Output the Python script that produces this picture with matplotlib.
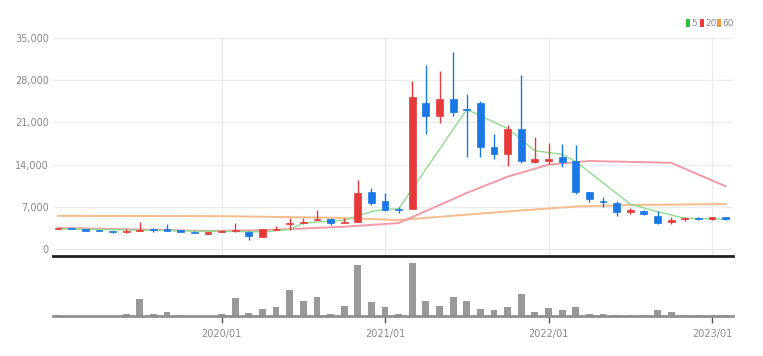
import matplotlib
matplotlib.use('Agg')
import matplotlib.pyplot as plt
from matplotlib.patches import Rectangle
import numpy as np
import pandas as pd

# monthly candles 2019/01 .. 2023/02
months = pd.date_range('2019-01-01', periods=50, freq='MS').strftime('%Y/%m').tolist()

opens = [3300, 3450, 3300, 3150, 2950, 2750, 3050, 3400, 3250, 3100, 2900, 2550,
         2900, 2950, 2900, 2050, 3200, 4200, 4250, 4800, 4950, 4300, 4500, 9500,
         8000, 6650, 6700, 24300, 22050, 24800, 23300, 24150, 16850, 15750, 19850, 14450,
         14650, 15250, 14650, 9400, 7900, 7700, 6150, 6250, 5450, 4550, 4950, 5200,
         4950, 5250]
highs = [3500, 3500, 3350, 3200, 3000, 3300, 4500, 3550, 4150, 3150, 2950, 2850,
         3100, 4350, 3000, 3350, 3800, 5100, 5100, 6450, 5200, 5100, 11450, 10050,
         9250, 6900, 27900, 30500, 29500, 32650, 25700, 24600, 19100, 20550, 28850, 18650,
         17650, 17350, 17250, 9450, 8700, 7950, 6750, 6400, 6350, 5350, 5300, 5300,
         5350, 5350]
lows = [3250, 3250, 3000, 3000, 2700, 2700, 3000, 2900, 3000, 2800, 2650, 2500,
        2850, 2900, 1500, 2000, 3150, 3150, 4200, 4750, 4000, 4250, 4400, 7300,
        6300, 5900, 6600, 19000, 20850, 22050, 15300, 15300, 14950, 13750, 14300, 14300,
        14100, 13650, 9050, 7850, 7000, 5500, 5750, 5600, 4100, 4150, 4650, 4850,
        4850, 4850]
closes = [3450, 3300, 3050, 3050, 2750, 3000, 3200, 3100, 3050, 2850, 2700, 2800,
          3050, 3050, 2200, 3300, 3400, 4300, 4500, 4950, 4300, 4500, 9350, 7600,
          6500, 6500, 25250, 22050, 24800, 22800, 23100, 16950, 15750, 19900, 14650, 14950,
          14950, 14450, 9400, 8250, 7800, 6100, 6400, 5850, 4350, 4800, 5100, 4950,
          5250, 4950]
volumes = [70000, 30000, 30000, 30000, 30000, 200000, 1670000, 230000, 370000, 70000, 20000, 30000,
           200000, 1830000, 330000, 700000, 870000, 2600000, 1500000, 1930000, 200000, 1030000, 5100000, 1430000,
           900000, 230000, 5330000, 1500000, 1000000, 1900000, 1500000, 730000, 600000, 870000, 2230000, 430000,
           830000, 600000, 930000, 230000, 230000, 100000, 100000, 100000, 600000, 400000, 100000, 100000,
           100000, 100000]

ma5_idx = [0, 11, 15, 17, 18, 21, 23, 24, 25, 30, 33, 35, 37, 38, 42, 44, 46, 49]
ma5_val = [3350, 2950, 2850, 3250, 4300, 4800, 6200, 6600, 6650, 23150, 20000, 16300,
           15700, 14500, 7450, 6200, 5100, 4950]
ma20_idx = [0, 11, 15, 21, 25, 30, 33, 36, 39, 45, 49]
ma20_val = [3500, 3000, 3100, 3700, 4300, 9300, 12000, 14000, 14600, 14300, 10400]
ma60_idx = [0, 12, 20, 25, 30, 34, 38, 42, 49]
ma60_val = [5500, 5450, 5200, 4800, 5700, 6400, 7050, 7300, 7450]

year_ticks = [12, 24, 36, 48]
year_labels = ['2020/01', '2021/01', '2022/01', '2023/01']

up_c = '#e63a3a'
down_c = '#1a78e6'
txt_c = '#8a8a8a'
grid_c = '#ececec'
fnt = ['Liberation Sans Narrow', 'DejaVu Sans']

fig = plt.figure(figsize=(7.63, 3.56), dpi=100)
W, H = 763, 356
x0, x1 = 53, 733
ax = fig.add_axes([x0 / W, 1 - 256 / H, (x1 - x0) / W, (256 - 38) / H])
axv = fig.add_axes([x0 / W, 1 - 316 / H, (x1 - x0) / W, (316 - 260) / H])

xs = np.arange(len(months))
xlim = (-0.37, len(months) - 1 + 0.54)

# price panel
ax.set_xlim(*xlim)
ax.set_ylim(-1160, 35000)
ax.set_yticks([0, 7000, 14000, 21000, 28000, 35000])
ax.set_yticklabels(['0', '7,000', '14,000', '21,000', '28,000', '35,000'],
                   family=fnt, fontsize=7, color=txt_c)
ax.set_xticks(year_ticks)
ax.tick_params(axis='x', length=0, labelbottom=False)
ax.tick_params(axis='y', length=0, pad=3)
ax.grid(True, color=grid_c, lw=1)
ax.set_axisbelow(True)
for s in ['top', 'right', 'left']:
    ax.spines[s].set_visible(False)
ax.spines['bottom'].set_color('#222222')
ax.spines['bottom'].set_linewidth(2)

ax.plot(ma60_idx, ma60_val, color='#f5bc8c', lw=1.4, zorder=2)
ax.plot(ma20_idx, ma20_val, color='#f29aa6', lw=1.4, zorder=2)
ax.plot(ma5_idx, ma5_val, color='#8fdc8f', lw=1.0, zorder=2)

bw = 0.5
for i in xs:
    o, h, l, c = opens[i], highs[i], lows[i], closes[i]
    col = up_c if c >= o else down_c
    ax.vlines(i, l, h, color=col, lw=1, zorder=3)
    lo, hi = min(o, c), max(o, c)
    ax.add_patch(Rectangle((i - bw / 2, lo), bw, max(hi - lo, 120),
                           facecolor=col, edgecolor=col, lw=0.5, zorder=4))

# volume panel
axv.set_xlim(*xlim)
axv.set_ylim(0, max(volumes) * 56 / 53)
axv.bar(xs, volumes, width=0.5, color='#999999', zorder=2)
axv.set_yticks([])
for s in ['top', 'right', 'left']:
    axv.spines[s].set_visible(False)
axv.spines['bottom'].set_color('#8f8f8f')
axv.spines['bottom'].set_linewidth(2)
axv.set_xticks(year_ticks)
axv.set_xticklabels(year_labels, family=fnt, fontsize=7, color=txt_c)
axv.tick_params(axis='x', length=5, color='#555555', width=1, pad=4)

# legend
for lx, lab, col in [(686, '5', '#2cc23c'), (700, '20', '#ee3a3a'), (717, '60', '#f39a40')]:
    fig.patches.append(Rectangle((lx / W, 1 - 27 / H), 4 / W, 8 / H, transform=fig.transFigure,
                                 facecolor=col, edgecolor='none'))
    fig.text((lx + 5.5) / W, 1 - 23 / H, lab, family=fnt, fontsize=6.5, color=txt_c, va='center')

fig.savefig('out.png', dpi=100)
